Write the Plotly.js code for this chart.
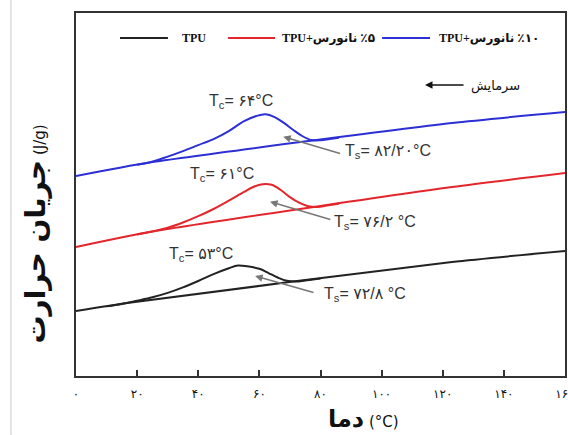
<!DOCTYPE html>
<html>
<head>
<meta charset="utf-8">
<script src="https://cdn.plot.ly/plotly-3.0.1.min.js"></script>
<style>html,body{margin:0;padding:0;background:#fff;}#chart{width:568px;height:435px;}</style>
</head>
<body>
<div id="chart"></div>
<script>
// Temperature (°C) and heat-flow (arbitrary units)
const xTickVals = [0, 20, 40, 60, 80, 100, 120, 140, 160];
const xTickText = ['۰', '۲۰', '۴۰', '۶۰', '۸۰', '۱۰۰', '۱۲۰', '۱۴۰', '۱۶۰'];

const seriesNames = ['TPU', 'TPU+نانورس \u200E٪۵', 'TPU+نانورس \u200E٪۱۰'];
const seriesColors = ['#222222', '#e3262b', '#2c2fd4'];

// baselines
const blackBaseT = [0, 18, 123, 160];
const blackBaseY = [65, 73.5, 114, 125];
const redBaseT = [0, 24, 123, 160];
const redBaseY = [129, 144, 189, 203];
const blueBaseT = [0, 24, 123, 160];
const blueBaseY = [200, 213.5, 253, 264];

// crystallisation peaks
const blackPeakT = [10, 15, 20, 25, 30, 35, 40, 45, 50, 53, 56, 60, 63, 66, 69, 72, 75, 80];
const blackPeakY = [69.7, 72.1, 75.3, 78.7, 83.1, 88.6, 95, 101.9, 107.8, 110.5, 109.7, 107.2, 102.9, 98.5, 95.2, 94.4, 95.5, 97.4];
const redPeakT = [20, 25, 30, 35, 40, 45, 50, 55, 58, 61, 64, 67, 70, 73, 76, 79, 82, 86];
const redPeakY = [141.5, 144.5, 148.2, 153.5, 159.8, 167, 175.3, 184.1, 189, 191.8, 191.2, 186, 178.9, 173.3, 169.8, 169, 170.4, 172.2];
const bluePeakT = [20, 24, 30, 35, 40, 45, 50, 55, 59, 62, 65, 68, 71, 74, 77, 80, 83, 86];
const bluePeakY = [211.3, 213.5, 219.4, 224.9, 230.9, 236.9, 244.9, 254.9, 260, 261.7, 258.9, 253.1, 246.3, 240, 236, 235.8, 237, 238.2];

// annotation values
const tcLabels = ['T<sub>c</sub>= ۵۳°C', 'T<sub>c</sub>= ۶۱°C', 'T<sub>c</sub>= ۶۴°C'];
const tsLabels = ['T<sub>s</sub>= ۷۲/۸ °C', 'T<sub>s</sub>= ۷۶/۲ °C', 'T<sub>s</sub>= ۸۲/۲۰°C'];
const tcPos = [[29.8, 122], [36.6, 202], [42.9, 275]];
const tsPos = [[80.5, 82], [83.8, 154], [87.4, 225]];
const arrowHead = [[58.6, 100], [63.5, 174.3], [67.8, 239.3]];
const arrowTail = [[78.2, 83], [83.7, 156], [86.9, 222]];

const baseT = [blackBaseT, redBaseT, blueBaseT];
const baseY = [blackBaseY, redBaseY, blueBaseY];
const peakT = [blackPeakT, redPeakT, bluePeakT];
const peakY = [blackPeakY, redPeakY, bluePeakY];

const traces = [];
for (let i = 0; i < 3; i++) {
  traces.push({x: baseT[i], y: baseY[i], mode: 'lines', type: 'scatter', showlegend: false,
    line: {color: seriesColors[i], width: 2, shape: 'spline', smoothing: 0.6}, hoverinfo: 'skip'});
  traces.push({x: peakT[i], y: peakY[i], mode: 'lines', type: 'scatter', showlegend: false,
    line: {color: seriesColors[i], width: 2, shape: 'spline', smoothing: 1}, hoverinfo: 'skip'});
}

const annFont = {family: 'Liberation Sans, DejaVu Sans, sans-serif', size: 16, color: '#333'};
const annotations = [];
for (let i = 0; i < 3; i++) {
  annotations.push({xref: 'x', yref: 'y', x: tcPos[i][0], y: tcPos[i][1], text: tcLabels[i],
    showarrow: false, xanchor: 'left', yanchor: 'middle', font: annFont});
  annotations.push({xref: 'x', yref: 'y', x: tsPos[i][0], y: tsPos[i][1], text: tsLabels[i],
    showarrow: false, xanchor: 'left', yanchor: 'middle', font: annFont});
  annotations.push({xref: 'x', yref: 'y', axref: 'x', ayref: 'y', x: arrowHead[i][0], y: arrowHead[i][1],
    ax: arrowTail[i][0], ay: arrowTail[i][1], text: '', showarrow: true,
    arrowhead: 2, arrowsize: 1, arrowwidth: 1.5, arrowcolor: '#777'});
}
// cooling arrow + label
annotations.push({xref: 'x', yref: 'y', x: 137.4, y: 290, text: 'سرمایش', showarrow: false,
  xanchor: 'center', yanchor: 'middle', font: {family: 'DejaVu Sans, sans-serif', size: 13, color: '#111'}});
annotations.push({xref: 'x', yref: 'y', axref: 'x', ayref: 'y', x: 114.2, y: 291, ax: 127.3, ay: 291,
  text: '', showarrow: true, arrowhead: 2, arrowsize: 1, arrowwidth: 1.5, arrowcolor: '#111'});

// legend (text + sample lines)
const legendTextX = [0.213, 0.417, 0.738];
const legendLineX = [[0.09, 0.188], [0.311, 0.407], [0.626, 0.724]];
const legendY = 0.931;
const legendFont = {family: 'Liberation Serif, DejaVu Sans, serif', size: 12, color: '#111'};
for (let i = 0; i < 3; i++) {
  annotations.push({xref: 'paper', yref: 'paper', x: legendTextX[i], y: legendY,
    text: '<b>' + seriesNames[i] + '</b>', showarrow: false, xanchor: 'left', yanchor: 'middle', font: legendFont});
}
// axis titles
annotations.push({xref: 'paper', yref: 'paper', x: 0.587, y: -0.118, showarrow: false,
  xanchor: 'center', yanchor: 'middle',
  text: '<b style="font-size:24px">دما</b><span style="font-size:15px"> (°C)</span>',
  font: {family: 'DejaVu Sans, Liberation Sans, sans-serif', size: 15, color: '#111'}});
annotations.push({xref: 'paper', yref: 'paper', x: -0.082, y: 0.392, showarrow: false, textangle: -90,
  xanchor: 'center', yanchor: 'middle',
  text: '<b style="font-size:28px">جریان حرارت</b><span style="font-size:15px"> (J/g)</span>',
  font: {family: 'DejaVu Sans, Liberation Sans, sans-serif', size: 15, color: '#111'}});

const shapes = [];
for (let i = 0; i < 3; i++) {
  shapes.push({type: 'line', xref: 'paper', yref: 'paper', x0: legendLineX[i][0], x1: legendLineX[i][1],
    y0: legendY, y1: legendY, line: {color: seriesColors[i], width: 2}});
}
shapes.push({type: 'line', xref: 'paper', yref: 'paper', x0: -0.133, x1: -0.133, y0: -0.1625, y1: 1.036,
  line: {color: '#c8c8c8', width: 1}});

const layout = {
  width: 568, height: 435,
  margin: {l: 76, r: 3, t: 13, b: 59},
  paper_bgcolor: '#fff', plot_bgcolor: '#fff',
  showlegend: false,
  xaxis: {range: [0, 160], tickvals: xTickVals, ticktext: xTickText, ticks: 'inside', ticklen: 6,
    tickwidth: 2, tickcolor: '#333', showline: true, mirror: true, linecolor: '#333', linewidth: 2,
    showgrid: false, zeroline: false, automargin: false, ticklabeloverflow: 'allow',
    ticklabelstandoff: 6,
    tickfont: {family: 'DejaVu Sans, sans-serif', size: 12, color: '#111'}},
  yaxis: {range: [0, 363], showticklabels: false, ticks: '', showline: true, mirror: true,
    linecolor: '#333', linewidth: 2, showgrid: false, zeroline: false, automargin: false},
  annotations: annotations,
  shapes: shapes
};

Plotly.newPlot('chart', traces, layout, {displayModeBar: false, staticPlot: true});
</script>
</body>
</html>
